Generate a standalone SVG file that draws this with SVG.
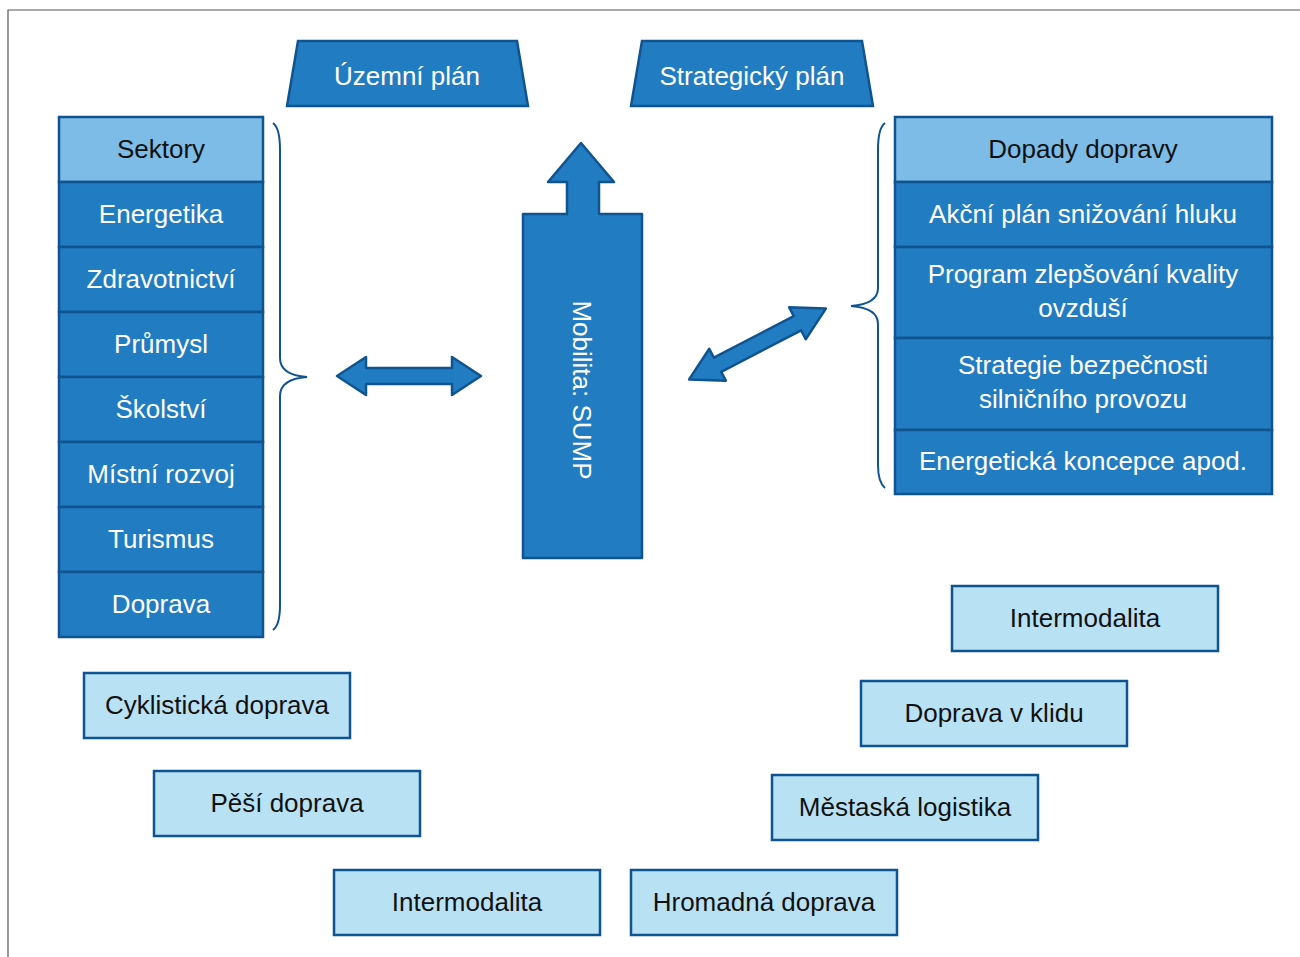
<svg xmlns="http://www.w3.org/2000/svg" width="1300" height="957" viewBox="0 0 1300 957">
<style>
.frame{stroke:#555;stroke-width:1.2;fill:none}
.hdr{fill:#7DBCE6;stroke:#0F5491;stroke-width:2.5}
.cell{fill:#227CC1;stroke:#0F5491;stroke-width:2.5}
.lite{fill:#B9E1F4;stroke:#0F5491;stroke-width:2.5}
.brace{fill:none;stroke:#0F5491;stroke-width:2}
.arr{fill:#227CC1;stroke:#0F5491;stroke-width:2.5;stroke-linejoin:round}
text{font-family:"Liberation Sans",Arial,sans-serif;font-size:26px;text-anchor:middle}
.w{fill:#fff}
.k{fill:#111}
</style>
<rect width="1300" height="957" fill="#fff"/>
<path class="frame" d="M8,957 L8,10 L1300,10"/>

<g id="uzemni-plan">
<polygon class="cell" points="298,41 517,41 528,106 287,106"/>
<text class="w" x="407" y="85">Územní plán</text>
</g>
<g id="strategicky-plan">
<polygon class="cell" points="642,41 862,41 873,106 631,106"/>
<text class="w" x="752" y="85">Strategický plán</text>
</g>

<g id="sektory">
<rect class="hdr" x="59" y="117" width="204" height="65"/>
<text class="k" x="161" y="158">Sektory</text>
<rect class="cell" x="59" y="182" width="204" height="65"/>
<text class="w" x="161" y="223">Energetika</text>
<rect class="cell" x="59" y="247" width="204" height="65"/>
<text class="w" x="161" y="288">Zdravotnictví</text>
<rect class="cell" x="59" y="312" width="204" height="65"/>
<text class="w" x="161" y="353">Průmysl</text>
<rect class="cell" x="59" y="377" width="204" height="65"/>
<text class="w" x="161" y="418">Školství</text>
<rect class="cell" x="59" y="442" width="204" height="65"/>
<text class="w" x="161" y="483">Místní rozvoj</text>
<rect class="cell" x="59" y="507" width="204" height="65"/>
<text class="w" x="161" y="548">Turismus</text>
<rect class="cell" x="59" y="572" width="204" height="65"/>
<text class="w" x="161" y="613">Doprava</text>
</g>

<g id="dopady">
<rect class="hdr" x="895" y="117" width="377" height="65"/>
<text class="k" x="1083" y="158">Dopady dopravy</text>
<rect class="cell" x="895" y="182" width="377" height="65"/>
<text class="w" x="1083" y="223">Akční plán snižování hluku</text>
<rect class="cell" x="895" y="247" width="377" height="91"/>
<text class="w" x="1083" y="283">Program zlepšování kvality</text>
<text class="w" x="1083" y="317">ovzduší</text>
<rect class="cell" x="895" y="338" width="377" height="92"/>
<text class="w" x="1083" y="374">Strategie bezpečnosti</text>
<text class="w" x="1083" y="408">silničního provozu</text>
<rect class="cell" x="895" y="430" width="377" height="64"/>
<text class="w" x="1083" y="470">Energetická koncepce apod.</text>
</g>

<g id="sump">
<path class="arr" d="M523,214 L567,214 L567,182 L548,182 L581,143 L614,182 L599,182 L599,214 L642,214 L642,558 L523,558 Z"/>
<text class="w" transform="translate(582,390) rotate(90)" y="9">Mobilita: SUMP</text>
</g>

<g id="connectors">
<path class="brace" d="M273,123 Q280,128 280,150 L280,358 Q280,375 307,377 Q280,379 280,396 L280,605 Q280,625 273,630"/>
<path class="brace" d="M885,123 Q878,128 878,150 L878,288 Q878,304 851,306 Q878,308 878,324 L878,465 Q878,482 885,488"/>
<path class="arr" d="M337,376 L366,357 L366,368 L452,368 L452,357 L481,376 L452,395 L452,384 L366,384 L366,395 Z"/>
<g transform="translate(757.5,344) rotate(-27.4)">
<path class="arr" d="M-77,0 L-45,-18 L-45,-8 L45,-8 L45,-18 L77,0 L45,18 L45,8 L-45,8 L-45,18 Z"/>
</g>
</g>

<g id="cyklisticka">
<rect class="lite" x="84" y="673" width="266" height="65"/>
<text class="k" x="217" y="714">Cyklistická doprava</text>
</g>
<g id="pesi">
<rect class="lite" x="154" y="771" width="266" height="65"/>
<text class="k" x="287" y="812">Pěší doprava</text>
</g>
<g id="intermodalita-left">
<rect class="lite" x="334" y="870" width="266" height="65"/>
<text class="k" x="467" y="911">Intermodalita</text>
</g>
<g id="hromadna">
<rect class="lite" x="631" y="870" width="266" height="65"/>
<text class="k" x="764" y="911">Hromadná doprava</text>
</g>
<g id="mestaska">
<rect class="lite" x="772" y="775" width="266" height="65"/>
<text class="k" x="905" y="816">Městaská logistika</text>
</g>
<g id="klidu">
<rect class="lite" x="861" y="681" width="266" height="65"/>
<text class="k" x="994" y="722">Doprava v klidu</text>
</g>
<g id="intermodalita-right">
<rect class="lite" x="952" y="586" width="266" height="65"/>
<text class="k" x="1085" y="627">Intermodalita</text>
</g>
</svg>
